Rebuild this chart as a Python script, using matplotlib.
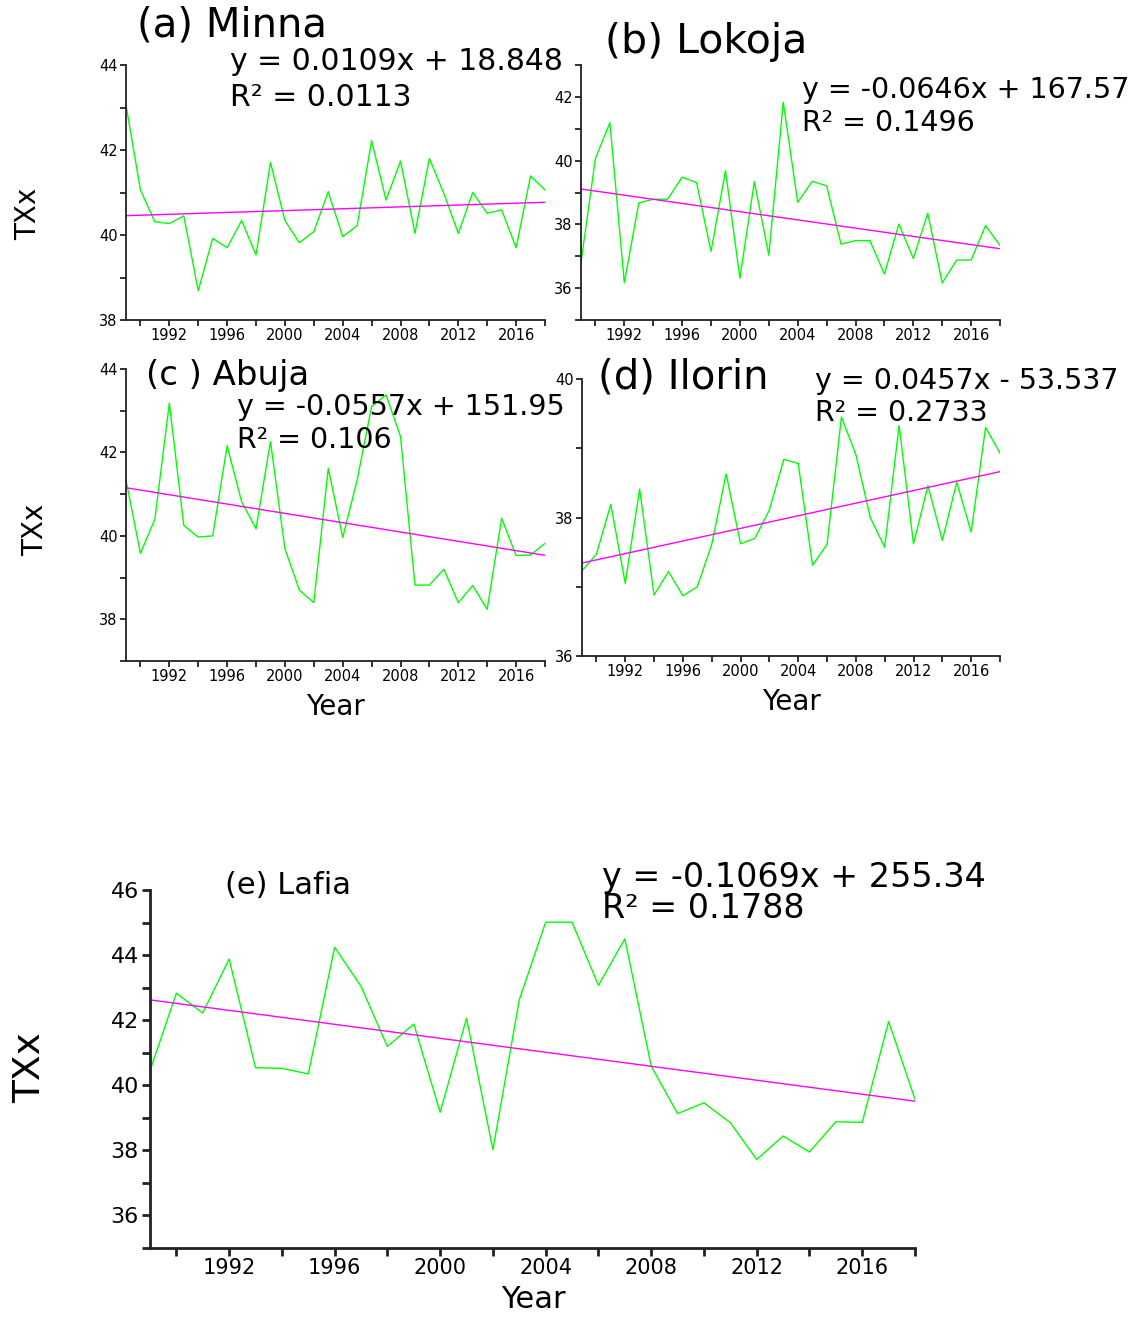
import numpy as np
import matplotlib.pyplot as plt

years = np.arange(1989, 2019)

minna = [43.06, 41.06, 40.31, 40.27, 40.45, 38.69, 39.92, 39.70, 40.34, 39.53,
         41.71, 40.34, 39.82, 40.08, 41.02, 39.96, 40.22, 42.22, 40.82, 41.74,
         40.04, 41.80, 40.98, 40.04, 41.00, 40.51, 40.59, 39.70, 41.39, 41.06]
lokoja = [36.81, 40.07, 41.19, 36.17, 38.67, 38.79, 38.79, 39.48, 39.31, 37.15,
          39.68, 36.31, 39.34, 37.03, 41.83, 38.69, 39.35, 39.21, 37.38, 37.49,
          37.49, 36.44, 38.01, 36.93, 38.35, 36.16, 36.88, 36.88, 37.96, 37.34]
abuja = [41.34, 39.58, 40.40, 43.18, 40.25, 39.97, 40.00, 42.16, 40.82, 40.17,
         42.26, 39.69, 38.70, 38.40, 41.62, 39.96, 41.34, 43.10, 43.38, 42.38,
         38.82, 38.82, 39.20, 38.40, 38.81, 38.24, 40.42, 39.53, 39.54, 39.82]
ilorin = [37.23, 37.47, 38.19, 37.05, 38.41, 36.88, 37.22, 36.87, 37.00, 37.61,
          38.63, 37.62, 37.70, 38.11, 38.84, 38.78, 37.31, 37.61, 39.45, 38.91,
          38.00, 37.57, 39.33, 37.62, 38.46, 37.67, 38.51, 37.79, 39.30, 38.93]
lafia = [40.45, 42.83, 42.22, 43.88, 40.54, 40.52, 40.35, 44.24, 43.04, 41.19,
         41.88, 39.17, 42.06, 38.02, 42.63, 45.01, 45.01, 43.07, 44.50, 40.59,
         39.13, 39.46, 38.85, 37.72, 38.44, 37.95, 38.88, 38.86, 41.96, 39.57]

W, H = 1144, 1317
fig = plt.figure(figsize=(W / 100, H / 100), dpi=100)


def rect(l, t, r, b):
    return [l / W, 1 - b / H, (r - l) / W, (b - t) / H]


def put(x, y, s, size, **kw):
    fig.text(x / W, 1 - y / H, s, fontsize=size, va='center', **kw)


def panel(box, data, ylim, tsize, lw_spine, tlen):
    ax = fig.add_axes(rect(*box))
    ax.plot(years, data, color='#00ff00', lw=1.0)
    k, c = np.polyfit(years, data, 1)
    ax.plot(years, k * years + c, color='#ff00ff', lw=1.0)
    ax.set_xlim(1989, 2018)
    ax.set_ylim(*ylim)
    ax.set_xticks(np.arange(1990, 2019, 2))
    ax.set_xticklabels([str(y) if y % 4 == 0 else '' for y in range(1990, 2019, 2)])
    yt = np.arange(ylim[0], ylim[1] + 1)
    ax.set_yticks(yt)
    ax.set_yticklabels([str(v) if v % 2 == 0 else '' for v in yt])
    for s in ['top', 'right']:
        ax.spines[s].set_visible(False)
    for s in ['left', 'bottom']:
        ax.spines[s].set_linewidth(lw_spine)
        ax.spines[s].set_color('#222222')
    ax.tick_params(direction='out', length=tlen, width=lw_spine, labelsize=tsize,
                   pad=2, color='#222222')
    return ax


panel((126, 65, 545, 320), minna, (38, 44), 10.5, 1.3, 4)
panel((581, 65, 1000, 320), lokoja, (35, 43), 10.5, 1.3, 4)
panel((126, 369, 545, 661), abuja, (37, 44), 10.5, 1.3, 4)
panel((582, 379, 1000, 656), ilorin, (36, 40), 10.5, 1.3, 4)
ax_e = panel((150, 890, 915, 1248), lafia, (35, 46), 16, 2.0, 6)
ax_e.tick_params(axis='x', labelsize=15, pad=1)

# titles and regression text
put(137, 25, '(a) Minna', 29)
put(230, 62, 'y = 0.0109x + 18.848', 21.5)
put(230, 97, 'R² = 0.0113', 21.5)

put(605, 42, '(b) Lokoja', 29.5)
put(802, 90, 'y = -0.0646x + 167.57', 20.5)
put(802, 123, 'R² = 0.1496', 20.5)

put(146, 375, '(c ) Abuja', 24.5)
put(237, 407, 'y = -0.0557x + 151.95', 20.5)
put(237, 440, 'R² = 0.106', 20.5)

put(598, 378, '(d) Ilorin', 29)
put(815, 381, 'y = 0.0457x - 53.537', 20.5)
put(815, 413, 'R² = 0.2733', 20.5)

put(225, 885, '(e) Lafia', 22)
put(602, 878, 'y = -0.1069x + 255.34', 24)
put(602, 908, 'R² = 0.1788', 24)

# axis labels
put(28, 214, 'TXx', 20, rotation=90, ha='center')
put(35, 530, 'TXx', 20, rotation=90, ha='center')
put(30, 1068, 'TXx', 27, rotation=90, ha='center')
put(335, 707, 'Year', 20, ha='center')
put(791, 702, 'Year', 20, ha='center')
put(533, 1300, 'Year', 22, ha='center')

fig.savefig('out.png', dpi=100)
